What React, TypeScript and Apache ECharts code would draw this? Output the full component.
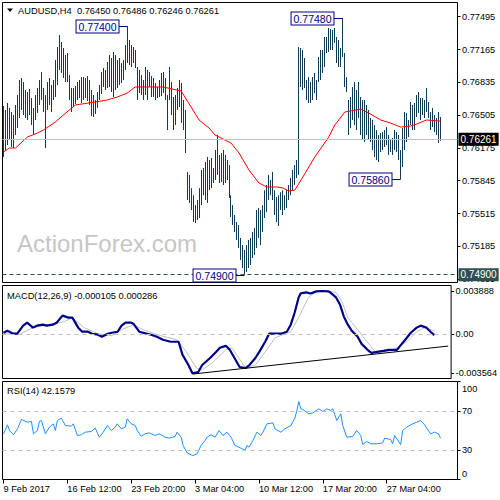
import React, { useEffect, useRef } from 'react';
import * as echarts from 'echarts';

const tickLabels = ['9 Feb 2017', '16 Feb 12:00', '23 Feb 20:00', '3 Mar 04:00', '10 Mar 12:00', '17 Mar 20:00', '27 Mar 04:00'];

const highs = [
  0.76597, 0.76557, 0.76627, 0.76577, 0.76536, 0.76506, 0.76607, 0.76707, 0.76858, 0.76878,
  0.76838, 0.76758, 0.76738, 0.76768, 0.76677, 0.76577, 0.76707, 0.76778, 0.76858, 0.76939,
  0.76778, 0.76707, 0.76838, 0.76878, 0.76808, 0.76858, 0.77059, 0.77190, 0.77311, 0.77241,
  0.77180, 0.77110, 0.77130, 0.76908, 0.76778, 0.76778, 0.76798, 0.76838, 0.76858, 0.76888,
  0.76888, 0.76878, 0.76898, 0.76858, 0.76758, 0.76707, 0.76657, 0.76738, 0.76808, 0.76939,
  0.76979, 0.76959, 0.77039, 0.77110, 0.77080, 0.77140, 0.77110, 0.77059, 0.77080, 0.77029,
  0.77059, 0.77210, 0.77400, 0.77261, 0.77210, 0.77190, 0.77160, 0.76989, 0.76959, 0.76908,
  0.76858, 0.76989, 0.76959, 0.76939, 0.76898, 0.76878, 0.76828, 0.76788, 0.76858, 0.76929,
  0.76939, 0.76878, 0.76707, 0.76989, 0.76838, 0.76687, 0.76707, 0.76778, 0.76858, 0.76828,
  0.76657, 0.76557, 0.75933, 0.75903, 0.75770, 0.75699, 0.75600, 0.75651, 0.75770, 0.75953,
  0.75973, 0.76033, 0.76084, 0.76053, 0.76074, 0.75973, 0.76154, 0.76305, 0.76104, 0.76124,
  0.76154, 0.76104, 0.76053, 0.76003, 0.75699, 0.75600, 0.75500, 0.75430, 0.75400, 0.75269,
  0.75198, 0.75148, 0.75198, 0.75249, 0.75269, 0.75329, 0.75369, 0.75550, 0.75570, 0.75550,
  0.75600, 0.75749, 0.75802, 0.75903, 0.75852, 0.75933, 0.75749, 0.75681, 0.75699, 0.75729,
  0.75749, 0.75699, 0.75749, 0.75802, 0.75872, 0.75953, 0.76003, 0.76053, 0.77190, 0.77180,
  0.77160, 0.77080, 0.76858, 0.76888, 0.76838, 0.76888, 0.76929, 0.76858, 0.77090, 0.77160,
  0.77160, 0.77291, 0.77291, 0.77381, 0.77371, 0.77361, 0.77381, 0.77291, 0.77261, 0.77180,
  0.77480, 0.77130, 0.76888, 0.76657, 0.76687, 0.76788, 0.76838, 0.76758, 0.76838, 0.76687,
  0.76657, 0.76657, 0.76607, 0.76557, 0.76476, 0.76456, 0.76406, 0.76355, 0.76305, 0.76325,
  0.76335, 0.76355, 0.76385, 0.76305, 0.76255, 0.76275, 0.76355, 0.76335, 0.76305, 0.76154,
  0.76375, 0.76536, 0.76526, 0.76456, 0.76637, 0.76607, 0.76627, 0.76707, 0.76738, 0.76677,
  0.76677, 0.76657, 0.76778, 0.76637, 0.76536, 0.76577, 0.76506, 0.76476, 0.76536, 0.76486,
];

const lows = [
  0.76084, 0.76154, 0.76204, 0.76255, 0.76184, 0.76174, 0.76305, 0.76375, 0.76476, 0.76557,
  0.76506, 0.76476, 0.76456, 0.76506, 0.76406, 0.76305, 0.76456, 0.76526, 0.76607, 0.76657,
  0.76536, 0.76174, 0.76557, 0.76607, 0.76536, 0.76657, 0.76687, 0.76808, 0.76959, 0.76929,
  0.76878, 0.76838, 0.76838, 0.76657, 0.76536, 0.76597, 0.76617, 0.76657, 0.76677, 0.76627,
  0.76657, 0.76677, 0.76647, 0.76607, 0.76496, 0.76486, 0.76516, 0.76577, 0.76657, 0.76717,
  0.76788, 0.76758, 0.76778, 0.76788, 0.76738, 0.76687, 0.76758, 0.76778, 0.76808, 0.76828,
  0.76858, 0.76959, 0.77029, 0.77009, 0.76989, 0.77029, 0.76979, 0.76657, 0.76727, 0.76707,
  0.76657, 0.76707, 0.76657, 0.76788, 0.76687, 0.76687, 0.76657, 0.76677, 0.76687, 0.76697,
  0.76727, 0.76657, 0.76355, 0.76657, 0.76506, 0.76355, 0.76406, 0.76557, 0.76587, 0.76426,
  0.76355, 0.76124, 0.75651, 0.75621, 0.75550, 0.75430, 0.75420, 0.75450, 0.75470, 0.75600,
  0.75699, 0.75651, 0.75621, 0.75749, 0.75770, 0.75822, 0.75852, 0.75903, 0.75822, 0.75832,
  0.75802, 0.75822, 0.75852, 0.75671, 0.75480, 0.75400, 0.75329, 0.75249, 0.75168, 0.75047,
  0.74967, 0.74900, 0.74927, 0.74967, 0.74997, 0.75068, 0.75098, 0.75168, 0.75269, 0.75198,
  0.75329, 0.75470, 0.75530, 0.75651, 0.75699, 0.75651, 0.75500, 0.75430, 0.75390, 0.75550,
  0.75500, 0.75550, 0.75570, 0.75651, 0.75699, 0.75749, 0.75802, 0.75872, 0.75903, 0.76788,
  0.76758, 0.76778, 0.76657, 0.76627, 0.76627, 0.76657, 0.76727, 0.76657, 0.76838, 0.76858,
  0.76929, 0.76989, 0.77130, 0.77140, 0.77160, 0.77160, 0.77230, 0.77029, 0.76989, 0.76989,
  0.77090, 0.76788, 0.76738, 0.76305, 0.76375, 0.76456, 0.76406, 0.76355, 0.76476, 0.76305,
  0.76255, 0.76235, 0.76305, 0.76255, 0.76235, 0.76154, 0.76084, 0.76053, 0.76033, 0.76134,
  0.76154, 0.76184, 0.76204, 0.76104, 0.76134, 0.76104, 0.76154, 0.76134, 0.76053, 0.75860,
  0.75983, 0.76154, 0.76235, 0.76285, 0.76406, 0.76355, 0.76355, 0.76486, 0.76526, 0.76456,
  0.76506, 0.76476, 0.76536, 0.76476, 0.76355, 0.76385, 0.76335, 0.76305, 0.76225, 0.76246,
];

const lastClose = 0.76261;
const supportLevel = 0.749;
const priceTicks = [0.77495, 0.77165, 0.76835, 0.76505, 0.76175, 0.75845, 0.75515, 0.75185, 0.74855];
const annotations = [[62, 0.774], [170, 0.7748], [199, 0.7586], [121, 0.749]];

const maPoints = [
  [0, 0.76134], [3, 0.76174], [6, 0.76174], [12, 0.76285], [17, 0.76325], [20, 0.76355], [26, 0.76436],
  [30, 0.76506], [36, 0.76607], [46, 0.76637], [52, 0.76657], [57, 0.76687], [62, 0.76727], [66, 0.76788],
  [80, 0.76788], [89, 0.76748], [94, 0.76587], [98, 0.76456], [103, 0.76375], [106, 0.76305], [114, 0.76224],
  [118, 0.76124], [123, 0.75953], [128, 0.75822], [132, 0.75782], [137, 0.75782], [140, 0.75772],
  [143, 0.75741], [146, 0.75751], [150, 0.75882], [156, 0.76084], [163, 0.76285], [166, 0.76405],
  [168, 0.76456], [171, 0.76536], [179, 0.76566], [183, 0.76526], [189, 0.76456], [194, 0.76425],
  [199, 0.76385], [204, 0.76395], [207, 0.76415], [212, 0.76456], [219, 0.76445],
];

const macdPoints = [
  [0, 0.00011], [2, 0.00029], [5, 0.00002], [7, 0.00002], [10, 0.00075], [12, 0.00102], [15, 0.00057],
  [17, 0.00075], [20, 0.00084], [22, 0.00075], [25, 0.00084], [27, 0.00102], [30, 0.00166], [33, 0.00148],
  [35, 0.00148], [38, 0.00057], [40, 0.0002], [43, 0.0002], [45, 0.00002], [48, -0.00007], [50, -0.00026],
  [53, 0.00002], [55, 0.00011], [58, 0.0002], [60, 0.00075], [62, 0.00102], [65, 0.00102], [66, 0.00093],
  [69, 0.0002], [71, 0.00011], [75, -0.00007], [78, -0.00026], [81, -0.00053], [85, -0.00071], [89, -0.00071],
  [91, -0.0019], [94, -0.00282], [96, -0.00356], [99, -0.00345], [101, -0.00282], [105, -0.00218],
  [108, -0.00163], [110, -0.00126], [113, -0.00108], [115, -0.00144], [118, -0.00236], [120, -0.003],
  [123, -0.00309], [125, -0.00282], [128, -0.00218], [130, -0.00163], [133, -0.00071], [135, 0.00002],
  [138, 0.00002], [141, 0.00002], [144, 0.0002], [146, 0.00084], [148, 0.00194], [150, 0.00331],
  [151, 0.00367], [154, 0.00377], [156, 0.00367], [159, 0.00386], [162, 0.00389], [165, 0.00386],
  [166, 0.00377], [169, 0.00331], [171, 0.00267], [173, 0.00157], [175, 0.00084], [177, 0.00029],
  [180, -0.00026], [182, -0.0009], [185, -0.00144], [187, -0.00172], [190, -0.00163], [193, -0.00154],
  [196, -0.00144], [200, -0.00144], [202, -0.00099], [205, -0.00035], [207, 0.00011], [210, 0.00057],
  [212, 0.00075], [215, 0.00057], [217, 0.0002], [219, -0.00011],
];

const signalPoints = [
  [0, 0.00002], [8, -0.00007], [15, 0.00057], [23, 0.00084], [31, 0.00112], [35, 0.00148], [41, 0.00057],
  [48, 0.00002], [55, -0.00016], [60, 0.00038], [66, 0.00084], [71, 0.00038], [78, -0.00007], [88, -0.00053],
  [93, -0.00163], [98, -0.00309], [101, -0.00327], [106, -0.00263], [113, -0.00144], [116, -0.00126],
  [121, -0.00254], [123, -0.00309], [128, -0.00282], [133, -0.00163], [138, -0.00035], [143, 0.00002],
  [146, 0.0002], [150, 0.00148], [155, 0.00331], [159, 0.00382], [164, 0.00385], [169, 0.00377],
  [172, 0.00294], [175, 0.00148], [180, 0.00038], [184, -0.00053], [189, -0.00163], [193, -0.00163],
  [198, -0.00144], [205, -0.00071], [210, 0.0002], [214, 0.00057], [219, 0.00029],
];

const macdTrend = [[96, -0.00364], [226, -0.0011]];
const macdTicks = [0.003888, 0, -0.003564];

const rsiPoints = [
  [0, 46.6], [2, 55.8], [3, 50.0], [5, 45.6], [7, 51.7], [9, 61.2], [12, 58.5], [14, 59.2], [15, 46.6],
  [17, 50.0], [18, 59.2], [19, 60.2], [21, 46.6], [23, 53.4], [25, 56.8], [26, 50.0], [27, 60.2], [29, 62.6],
  [31, 55.1], [34, 54.4], [35, 56.8], [37, 44.9], [39, 45.6], [41, 48.3], [44, 49.0], [46, 52.4], [48, 43.2],
  [50, 48.3], [52, 55.1], [54, 50.0], [56, 53.4], [57, 56.8], [59, 51.7], [61, 53.4], [62, 61.9], [64, 56.8],
  [66, 55.1], [67, 50.0], [69, 44.2], [71, 46.6], [73, 47.6], [76, 44.9], [78, 46.6], [81, 43.2], [83, 42.2],
  [86, 43.9], [87, 48.3], [89, 43.2], [90, 34.7], [92, 27.2], [94, 25.2], [95, 24.5], [97, 26.2], [99, 34.7],
  [101, 39.8], [102, 43.2], [104, 45.6], [106, 43.2], [108, 50.0], [110, 44.9], [112, 48.3], [114, 43.2],
  [116, 34.7], [119, 32.0], [121, 29.6], [122, 34.7], [123, 33.0], [125, 39.8], [127, 48.3], [129, 44.9],
  [130, 48.3], [132, 56.8], [135, 57.8], [136, 51.7], [139, 48.3], [141, 51.7], [144, 55.1], [146, 62.6],
  [147, 70.4], [148, 79.6], [149, 72.1], [150, 71.4], [153, 67.0], [155, 68.0], [158, 72.1], [160, 69.4],
  [162, 72.1], [164, 70.4], [165, 72.1], [167, 60.2], [169, 67.0], [170, 55.1], [172, 43.2], [175, 43.9],
  [177, 50.0], [179, 44.9], [180, 35.7], [182, 38.8], [184, 36.4], [187, 36.4], [190, 37.4], [191, 42.2],
  [194, 40.8], [195, 36.4], [196, 44.9], [199, 35.7], [200, 50.0], [202, 53.4], [205, 56.8], [207, 58.5],
  [209, 60.2], [211, 55.8], [214, 46.6], [216, 48.3], [218, 46.6], [219, 42.2],
];
const rsiTicks = [100, 70, 30, 0];
const rsiInnerTicks = [70, 30];
const rsiEdgeLabels = ['100', '0'];
const rsiLevels = [70, 30];

const CAT_COUNT = 228;
const FONT = 'Liberation Sans, Arial, sans-serif';
const BAR_COLOR = '#0e3a56';
const AXIS_FONT_SIZE = 9.2;

const categories = Array.from({ length: CAT_COUNT }, (_, i) =>
  i % 32 === 0 && i / 32 < tickLabels.length ? tickLabels[i / 32] : ''
);

function buildOption(): any {
  const gridBase = { show: true, borderColor: '#000', borderWidth: 1, backgroundColor: 'transparent', left: 2.5, width: 455 };
  const hiddenX = (gi: number) => ({
    type: 'category', gridIndex: gi, data: categories, boundaryGap: true, show: false,
  });
  const axisLabelBase = { color: '#000', fontFamily: FONT, fontSize: AXIS_FONT_SIZE };
  const textStyle = (text: string, fontSize = 9.3) => ({ text, fill: '#000', fontSize, fontFamily: FONT, verticalAlign: 'middle' });
  return {
    animation: false,
    backgroundColor: '#fff',
    textStyle: { fontFamily: FONT },
    grid: [
      { ...gridBase, top: 2.5, height: 280 },
      { ...gridBase, top: 285.5, height: 93 },
      { ...gridBase, top: 381.5, height: 98 },
    ],
    xAxis: [
      hiddenX(0),
      hiddenX(1),
      {
        type: 'category', gridIndex: 2, data: categories, boundaryGap: true,
        axisLine: { show: false },
        axisTick: { show: true, alignWithLabel: true, length: 4, interval: (i: number) => categories[i] !== '', lineStyle: { color: '#000' } },
        axisLabel: { ...axisLabelBase, interval: (i: number) => categories[i] !== '', align: 'left', margin: 5 },
        splitLine: { show: false },
      },
    ],
    yAxis: [
      {
        type: 'value', gridIndex: 0, position: 'right', min: 0.74821, max: 0.77638,
        splitLine: { show: false }, axisLine: { show: false },
        axisTick: { show: true, length: 3, customValues: priceTicks, lineStyle: { color: '#000' } },
        axisLabel: { ...axisLabelBase, margin: 4.5, customValues: priceTicks, formatter: (v: number) => v.toFixed(5) },
      },
      {
        type: 'value', gridIndex: 1, position: 'right', min: -0.00404, max: 0.00439,
        splitLine: { show: false }, axisLine: { show: false },
        axisTick: { show: true, length: 3, customValues: macdTicks, lineStyle: { color: '#000' } },
        axisLabel: { ...axisLabelBase, margin: 4.5, customValues: macdTicks, formatter: (v: number) => (v === 0 ? '0.00' : String(v)) },
      },
      {
        type: 'value', gridIndex: 2, position: 'right', min: 0, max: 100,
        splitLine: { show: false }, axisLine: { show: false },
        axisTick: { show: true, length: 3, customValues: rsiTicks, lineStyle: { color: '#000' } },
        axisLabel: { ...axisLabelBase, margin: 4.5, customValues: rsiInnerTicks, formatter: (v: number) => String(v) },
      },
    ],
    graphic: [
      { type: 'polygon', shape: { points: [[7, 8.5], [13, 8.5], [10, 12]] }, style: { fill: '#000' } },
      { type: 'text', x: 18, y: 10.5, style: textStyle('AUDUSD,H4  0.76450 0.76486 0.76246 0.76261') },
      { type: 'text', x: 7, y: 295.5, style: textStyle('MACD(12,26,9) -0.000105 0.000286') },
      { type: 'text', x: 7, y: 390.5, style: textStyle('RSI(14) 42.1579') },
      { type: 'text', x: 462, y: 388.5, style: textStyle(rsiEdgeLabels[0], AXIS_FONT_SIZE) },
      { type: 'text', x: 462, y: 473.5, style: textStyle(rsiEdgeLabels[1], AXIS_FONT_SIZE) },
      { type: 'text', x: 17, y: 243, z: 1, style: { text: 'ActionForex.com', fill: '#c6c6c6', fontSize: 24, fontFamily: FONT, verticalAlign: 'middle' } },
    ],
    series: [
      {
        name: 'bars', type: 'custom', xAxisIndex: 0, yAxisIndex: 0, z: 3,
        data: highs.map((h, i) => [i, h, lows[i]]),
        encode: { x: 0, y: [1, 2] },
        renderItem: (_p: any, api: any) => {
          const top = api.coord([api.value(0), api.value(1)]);
          const bot = api.coord([api.value(0), api.value(2)]);
          const x = Math.floor(top[0]) + 0.5;
          return {
            type: 'line',
            shape: { x1: x, y1: top[1], x2: x, y2: bot[1] },
            style: { stroke: BAR_COLOR, lineWidth: 1 },
          };
        },
      },
      {
        name: 'MA', type: 'line', xAxisIndex: 0, yAxisIndex: 0, z: 4,
        data: maPoints, showSymbol: false, smooth: false,
        lineStyle: { color: '#ff0000', width: 1 }, itemStyle: { color: '#ff0000' },
        markLine: {
          silent: true, symbol: ['none', 'none'], animation: false, precision: 5,
          data: [
            {
              yAxis: lastClose,
              lineStyle: { color: '#c0c0c0', width: 1, type: 'solid' },
              label: { show: true, position: 'end', distance: 1, formatter: () => lastClose.toFixed(5), color: '#fff', backgroundColor: '#000', padding: [2, 2, 1, 2], fontSize: 10, fontFamily: FONT },
            },
            {
              yAxis: supportLevel,
              lineStyle: { color: '#2f4f4f', width: 1, type: [4, 3] },
              label: { show: true, position: 'end', distance: 1, formatter: () => supportLevel.toFixed(5), color: '#fff', backgroundColor: '#2f4f4f', padding: [2, 2, 1, 2], fontSize: 10, fontFamily: FONT },
            },
          ],
        },
      },
      {
        name: 'labels', type: 'custom', xAxisIndex: 0, yAxisIndex: 0, z: 6,
        data: annotations,
        encode: { x: 0, y: 1 },
        renderItem: (_p: any, api: any) => {
          const pt = api.coord([api.value(0), api.value(1)]);
          const x = Math.floor(pt[0]) + 0.5;
          const y = Math.round(pt[1]) + 0.5;
          return {
            type: 'group',
            children: [
              { type: 'line', shape: { x1: x - 9, y1: y, x2: x, y2: y }, style: { stroke: '#000080', lineWidth: 1 } },
              {
                type: 'text',
                style: {
                  text: Number(api.value(1)).toFixed(5), x: x - 9, y, align: 'right', verticalAlign: 'middle',
                  fill: '#000080', fontSize: 10.5, fontFamily: FONT, backgroundColor: '#fff',
                  borderColor: '#000080', borderWidth: 1, padding: [1, 2, 0, 2],
                },
              },
            ],
          };
        },
      },
      {
        name: 'signal', type: 'line', xAxisIndex: 1, yAxisIndex: 1, z: 3,
        data: signalPoints, showSymbol: false,
        lineStyle: { color: '#c0c0c0', width: 1 }, itemStyle: { color: '#c0c0c0' },
      },
      {
        name: 'MACD', type: 'line', xAxisIndex: 1, yAxisIndex: 1, z: 4,
        data: macdPoints, showSymbol: false,
        lineStyle: { color: '#00008b', width: 2.2 }, itemStyle: { color: '#00008b' },
        markLine: {
          silent: true, symbol: ['none', 'none'], animation: false, label: { show: false }, precision: 6,
          data: [
            { yAxis: 0, lineStyle: { color: '#c0c0c0', width: 1, type: [4, 4] } },
            [
              { coord: macdTrend[0], lineStyle: { color: '#000', width: 1, type: 'solid' } },
              { coord: macdTrend[1] },
            ],
          ],
        },
      },
      {
        name: 'RSI', type: 'line', xAxisIndex: 2, yAxisIndex: 2, z: 4,
        data: rsiPoints, showSymbol: false,
        lineStyle: { color: '#1e90ff', width: 1 }, itemStyle: { color: '#1e90ff' },
        markLine: {
          silent: true, symbol: ['none', 'none'], animation: false, label: { show: false }, precision: 2,
          data: rsiLevels.map((v) => ({ yAxis: v, lineStyle: { color: '#c0c0c0', width: 1, type: [4, 4] } })),
        },
      },
    ],
  };
}

export default function App() {
  const ref = useRef<HTMLDivElement | null>(null);
  useEffect(() => {
    if (!ref.current) return;
    const chart = echarts.init(ref.current, null, { renderer: 'svg' });
    chart.setOption(buildOption());
    return () => chart.dispose();
  }, []);
  return <div ref={ref} style={{ position: 'absolute', left: 0, top: 0, width: 500, height: 500 }} />;
}
